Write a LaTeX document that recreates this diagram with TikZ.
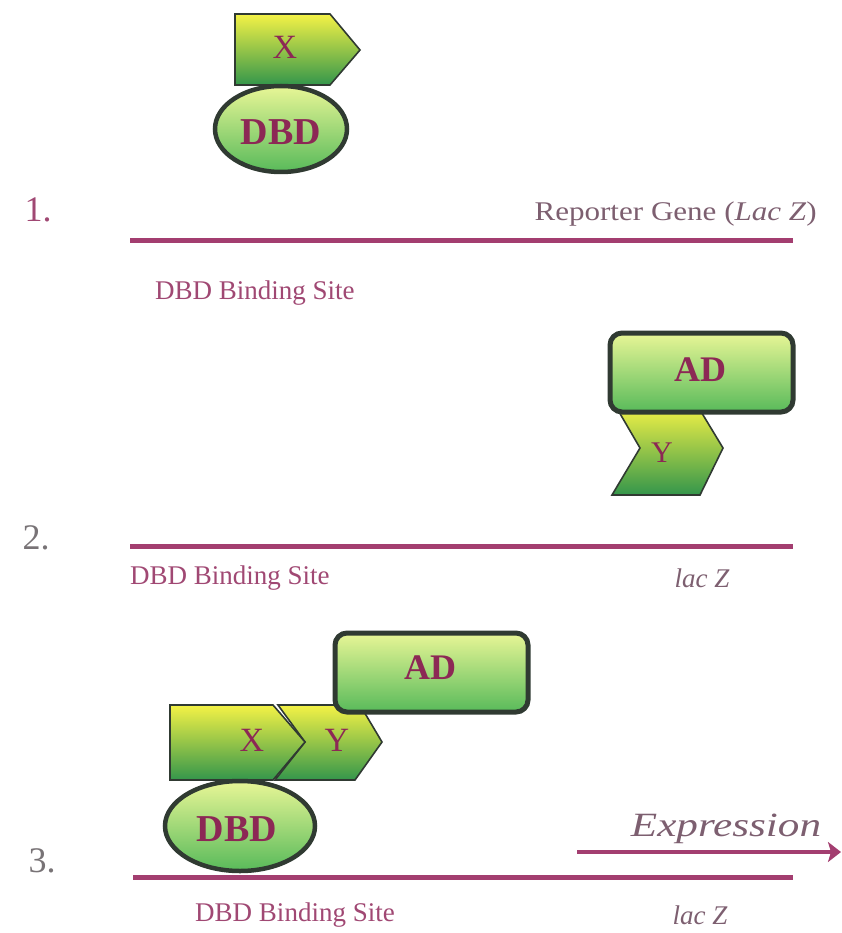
\documentclass[tikz,border=0pt]{standalone}
\usepackage{fontspec}
\setmainfont{Liberation Serif}
\usetikzlibrary{arrows.meta}
\definecolor{dna}{RGB}{163,62,112}
\definecolor{lblc}{RGB}{160,72,115}
\definecolor{grayc}{RGB}{125,95,112}
\definecolor{numc}{RGB}{120,115,118}
\definecolor{boldc}{RGB}{140,40,85}
\definecolor{edge}{RGB}{48,58,50}
\definecolor{ytop}{RGB}{244,242,70}
\definecolor{gbot}{RGB}{52,150,75}
\definecolor{etop}{RGB}{232,246,150}
\definecolor{ebot}{RGB}{88,186,90}
\tikzset{
  dnaline/.style={draw=dna, line width=5pt},
  lbl/.style={text=lblc, font=\fontsize{27}{30}\selectfont, inner sep=0pt},
  num/.style={text=numc, font=\fontsize{36}{40}\selectfont, inner sep=0pt},
  boldlbl/.style={text=boldc, font=\bfseries\fontsize{38}{40}\selectfont, inner sep=0pt},
  protlbl/.style={text=boldc, font=\fontsize{34}{36}\selectfont, inner sep=0pt},
  arrowbox/.style={draw=edge, line width=1.6pt, top color=ytop, bottom color=gbot, line join=miter},
  dbdshape/.style={draw=edge, line width=4.5pt, top color=etop, bottom color=ebot},
  adshape/.style={draw=edge, line width=5pt, top color=etop, bottom color=ebot, rounded corners=12pt}
}
\begin{document}
\begin{tikzpicture}[x=1pt,y=-1pt]
\useasboundingbox (0,0) rectangle (842,933);

% ---------- Panel 1 ----------
\draw[arrowbox] (235,14) -- (330,14) -- (360,50) -- (330,85) -- (235,85) -- cycle;
\node[protlbl] (x1) at (285,47) {X};
\draw[dbdshape] (281,129) ellipse [x radius=66, y radius=43];
\node[boldlbl] (dbd1) at (281,132) {DBD};
\node[num, text=lblc] (n1) at (38,210) {1.};
\node[lbl, text=grayc, anchor=east] (rep) at (817,214) {\scalebox{1.15}[1]{Reporter Gene (\textit{Lac Z})}};
\coordinate (l1a) at (130,240);
\coordinate (l1b) at (793,240);
\draw[dnaline] (l1a) -- (l1b);
\node[lbl, anchor=west] (bs1) at (155,293) {DBD Binding Site};

% ---------- Panel 2 ----------
\draw[arrowbox] (615,405) -- (697,405) -- (723,448) -- (700,495) -- (612,495) -- (640,448) -- cycle;
\node[protlbl, font=\fontsize{30}{32}\selectfont] (y2) at (662,453) {Y};
\draw[adshape] (610,333) rectangle (793,412);
\node[boldlbl, font=\bfseries\fontsize{36}{38}\selectfont] (ad2) at (700,370) {AD};
\node[num] (n2) at (36,538) {2.};
\coordinate (l2a) at (130,546);
\coordinate (l2b) at (793,546);
\draw[dnaline] (l2a) -- (l2b);
\node[lbl, anchor=west] (bs2) at (130,578) {DBD Binding Site};
\node[lbl, text=grayc] (lac2) at (702,578) {\textit{lac Z}};

% ---------- Panel 3 ----------
\draw[arrowbox] (278,705) -- (360,705) -- (382,742) -- (355,780) -- (275,780) -- (305,742) -- cycle;
\draw[arrowbox] (170,705) -- (273,705) -- (305,742) -- (273,780) -- (170,780) -- cycle;
\node[protlbl] (x3) at (252,740) {X};
\node[protlbl] (y3) at (337,740) {Y};
\draw[adshape] (335,633) rectangle (528,712);
\node[boldlbl, font=\bfseries\fontsize{36}{38}\selectfont] (ad3) at (430,668) {AD};
\draw[dbdshape] (240,826) ellipse [x radius=75, y radius=45];
\node[boldlbl] (dbd3) at (237,829) {DBD};
\node[num] (n3) at (42,861) {3.};
\coordinate (ex1) at (577,852);
\coordinate (ex2) at (841,852);
\draw[draw=dna, line width=4.5pt, -{Stealth[length=13pt,width=20pt,inset=3pt]}] (ex1) -- (ex2);
\node[lbl, text=grayc, font=\itshape\fontsize{34}{36}\selectfont] (expr) at (726,829) {\scalebox{1.27}[1]{Expression}};
\coordinate (l3a) at (133,877);
\coordinate (l3b) at (793,877);
\draw[dnaline] (l3a) -- (l3b);
\node[lbl] (bs3) at (295,915) {DBD Binding Site};
\node[lbl, text=grayc] (lac3) at (700,915) {\textit{lac Z}};
\end{tikzpicture}
\end{document}
